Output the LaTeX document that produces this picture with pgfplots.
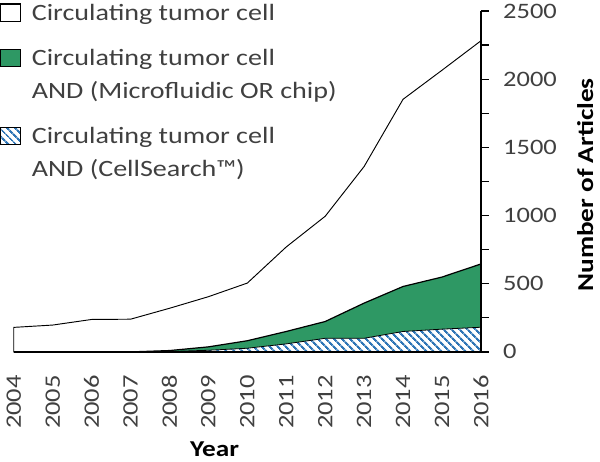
\documentclass[border=0pt]{standalone}
\usepackage{fontspec}
\setmainfont{Carlito}[FakeStretch=1.2]
\usepackage{pgfplots}
\pgfplotsset{compat=1.18}
\usetikzlibrary{patterns.meta}
\definecolor{ctcgreen}{RGB}{46,152,100}
\definecolor{hatchblue}{RGB}{46,117,182}
\definecolor{txtgray}{RGB}{64,64,64}
\begin{document}
\begin{tikzpicture}
\begin{axis}[
  width=349.5pt, height=255pt, scale only axis,
  xmin=2004, xmax=2016, ymin=0, ymax=2500,
  axis x line=bottom, axis y line=right,
  axis line style={-, line width=1.1pt, black},
  axis on top,
  clip=false,
  xtick={2004,2005,...,2016},
  xtick style={draw=none},
  ytick={0,500,...,2500},
  minor ytick={250,750,...,2250},
  tick align=outside,
  major tick length=6pt, minor tick length=6pt,
  tick style={line width=1pt, black},
  /pgf/number format/assume math mode=true,
  /pgf/number format/1000 sep={},
  ticklabel style={font=\fontsize{16.5}{19}\selectfont, text=txtgray},
  xticklabel style={rotate=90, anchor=east, inner ysep=0pt, inner xsep=11.25pt},
  yticklabel style={anchor=west, inner ysep=0pt, inner xsep=10.5pt},
  xlabel={Year}, ylabel={Number of Articles},
  label style={font=\fontsize{17}{21}\selectfont\bfseries},
  xlabel style={at={(axis description cs:0.43,-0.3059)}, anchor=base, inner sep=3.75pt},
  ylabel style={at={(axis description cs:1.2403,0.49)}, anchor=base, inner sep=5pt},
  legend image code/.code={\draw[#1, line width=0.8pt] (0pt,-0.75pt) rectangle (15pt,12pt);},
  legend style={at={(axis description cs:0,1)}, anchor=north west,
    xshift=-10.5pt, yshift=8.5pt, draw=none, fill=none, inner sep=0pt,
    row sep=0pt, column sep=8pt,
    font=\fontsize{17.5}{24}\selectfont, text=txtgray,
    nodes={inner sep=0pt}, cells={anchor=base west}},
]
\addplot[draw=black, line width=0.7pt, fill=white] coordinates {
(2004,180) (2005,197) (2006,238) (2007,240) (2008,320) (2009,405) (2010,505)
(2011,770) (2012,995) (2013,1360) (2014,1853) (2015,2066) (2016,2282)} \closedcycle;
\addlegendentry{\rule{0pt}{15pt}Circulating tumor cell}
\addplot[draw=black, line width=0.9pt, fill=ctcgreen] coordinates {
(2004,0) (2005,0) (2006,0) (2007,0) (2008,10) (2009,37) (2010,82)
(2011,150) (2012,223) (2013,358) (2014,480) (2015,549) (2016,645)} \closedcycle;
\addlegendentry{\rule{0pt}{32.5pt}Circulating tumor cell}
\addlegendimage{empty legend}
\addlegendentry{\rule{0pt}{23pt}AND (Microfluidic OR chip)}
\addplot[draw=none, fill=white, forget plot] coordinates {
(2004,0) (2005,0) (2006,0) (2007,0) (2008,3) (2009,12) (2010,27)
(2011,59) (2012,100) (2013,100) (2014,150) (2015,167) (2016,181)} \closedcycle;
\addplot[draw=black, line width=0.6pt, pattern={Lines[angle=-45,distance=4pt,line width=1.6pt]}, pattern color=hatchblue] coordinates {
(2004,0) (2005,0) (2006,0) (2007,0) (2008,3) (2009,12) (2010,27)
(2011,59) (2012,100) (2013,100) (2014,150) (2015,167) (2016,181)} \closedcycle;
\addlegendentry{\rule{0pt}{32.5pt}Circulating tumor cell}
\addlegendimage{empty legend}
\addlegendentry{\rule{0pt}{23pt}AND (CellSearch\texttrademark)}
\end{axis}
\end{tikzpicture}
\end{document}
